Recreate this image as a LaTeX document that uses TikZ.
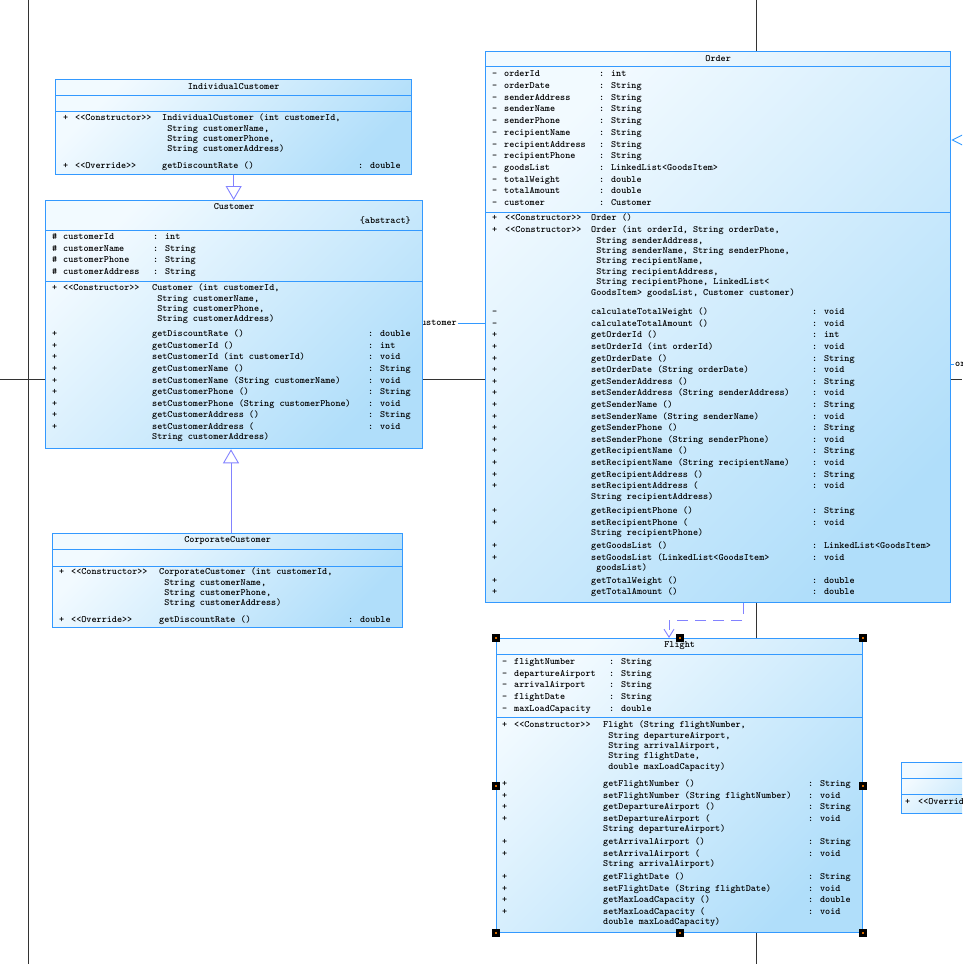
\documentclass[tikz,border=0pt]{standalone}
\usepackage{tikz}
\usepackage{array}
\usetikzlibrary{arrows.meta, positioning, calc, backgrounds}
\usepackage{xcolor}
\definecolor{umlblue}{RGB}{51,153,255}
\definecolor{umllight}{RGB}{242,250,255}
\definecolor{umldark}{RGB}{176,222,250}
\definecolor{genblue}{RGB}{130,130,255}
\setlength{\tabcolsep}{0pt}
\newcommand{\umlfont}{\fontsize{9.7}{10.4}\selectfont\ttfamily\bfseries}
\newcommand{\ind}{\hspace*{5.1pt}}
\tikzset{
  cls/.style={rectangle, draw=umlblue, line width=1.3pt,
    top color=umllight, bottom color=umldark, shading angle=45,
    anchor=north west, inner sep=0pt},
  sep/.style={draw=umlblue, line width=0.9pt},
  ttl/.style={font=\umlfont, inner sep=0pt},
  cmp/.style={font=\umlfont, inner sep=0pt, anchor=north west},
  lbl/.style={font=\umlfont, inner sep=1pt},
  gen/.style={-{Triangle[open, length=14pt, width=16pt]}, draw=genblue,
    line width=0.9pt},
  dep/.style={-{Straight Barb[length=8pt, width=10pt]}, draw=genblue,
    line width=0.9pt, dash pattern=on 11pt off 7pt},
  assoc/.style={draw=umlblue, line width=0.9pt},
  pg/.style={draw=black!80, line width=1pt},
  hdl/.style={rectangle, fill=black, minimum size=8pt, inner sep=0pt,
    path picture={\fill[orange!85!black]
      ([shift={(-1pt,-1pt)}]path picture bounding box.center) rectangle
      ([shift={(1pt,1pt)}]path picture bounding box.center);}},
}

\begin{document}
\begin{tikzpicture}[x=1pt, y=-1pt]
  \useasboundingbox (0,0) rectangle (962,964);
  \clip (0,0) rectangle (962,964);

  % -- IndividualCustomer --
  \node[cls, minimum width=356pt, minimum height=95pt] (indiv) at (55,79) {};
  \node[ttl] (indivT) at (indiv.north |- 0,87) {IndividualCustomer};
  \draw[sep] (indiv.west |- 0,95) -- (indiv.east |- 0,95);
  \draw[sep] (indiv.west |- 0,111) -- (indiv.east |- 0,111);
  \node[cmp] (indivOps) at (63,113.2) {%
    \begin{tabular}{w{l}{12pt}w{l}{87pt}w{l}{196pt}l}
    + & <<Constructor>> & IndividualCustomer (int customerId, & \\
      & & \ind String customerName, & \\
      & & \ind String customerPhone, & \\
      & & \ind String customerAddress) & \\[6.4pt]
    + & <<Override>> & getDiscountRate () & : double
    \end{tabular}};

  % -- Customer --
  \node[cls, minimum width=377pt, minimum height=248pt] (cust) at (45,200) {};
  \node[ttl] (custT) at (cust.north |- 0,207) {Customer};
  \node[ttl, anchor=east] (custAbs) at (411,221) {\{abstract\}};
  \draw[sep] (cust.west |- 0,230) -- (cust.east |- 0,230);
  \node[cmp] (custAttr) at (52,232.2) {%
    \begin{tabular}{w{l}{11pt}w{l}{90pt}l}
    \# & customerId & : int \\[1.2pt]
    \# & customerName & : String \\[1.2pt]
    \# & customerPhone & : String \\[1.2pt]
    \# & customerAddress & : String
    \end{tabular}};
  \draw[sep] (cust.west |- 0,281) -- (cust.east |- 0,281);
  \node[cmp] (custOps) at (52,283.2) {%
    \begin{tabular}{w{l}{11pt}w{l}{89pt}w{l}{216pt}l}
    + & <<Constructor>> & Customer (int customerId, & \\
      & & \ind String customerName, & \\
      & & \ind String customerPhone, & \\
      & & \ind String customerAddress) & \\[4.4pt]
    + & & getDiscountRate () & : double \\[1.2pt]
    + & & getCustomerId () & : int \\[1.2pt]
    + & & setCustomerId (int customerId) & : void \\[1.2pt]
    + & & getCustomerName () & : String \\[1.2pt]
    + & & setCustomerName (String customerName) & : void \\[1.2pt]
    + & & getCustomerPhone () & : String \\[1.2pt]
    + & & setCustomerPhone (String customerPhone) & : void \\[1.2pt]
    + & & getCustomerAddress () & : String \\[1.2pt]
    + & & setCustomerAddress ( & : void \\
      & & String customerAddress) &
    \end{tabular}};

  % -- CorporateCustomer --
  \node[cls, minimum width=350pt, minimum height=94pt] (corp) at (52,533) {};
  \node[ttl] (corpT) at (corp.north |- 0,541) {CorporateCustomer};
  \draw[sep] (corp.west |- 0,549) -- (corp.east |- 0,549);
  \draw[sep] (corp.west |- 0,566) -- (corp.east |- 0,566);
  \node[cmp] (corpOps) at (59,567.2) {%
    \begin{tabular}{w{l}{12pt}w{l}{88pt}w{l}{189pt}l}
    + & <<Constructor>> & CorporateCustomer (int customerId, & \\
      & & \ind String customerName, & \\
      & & \ind String customerPhone, & \\
      & & \ind String customerAddress) & \\[6.4pt]
    + & <<Override>> & getDiscountRate () & : double
    \end{tabular}};

  % -- Order --
  \node[cls, minimum width=465pt, minimum height=551pt] (order) at (485,51) {};
  \node[ttl] (orderT) at (order.north |- 0,59) {Order};
  \draw[sep] (order.west |- 0,66) -- (order.east |- 0,66);
  \node[cmp] (orderAttr) at (492,69.2) {%
    \begin{tabular}{w{l}{12pt}w{l}{95pt}l}
    - & orderId & : int \\[1.33pt]
    - & orderDate & : String \\[1.33pt]
    - & senderAddress & : String \\[1.33pt]
    - & senderName & : String \\[1.33pt]
    - & senderPhone & : String \\[1.33pt]
    - & recipientName & : String \\[1.33pt]
    - & recipientAddress & : String \\[1.33pt]
    - & recipientPhone & : String \\[1.33pt]
    - & goodsList & : LinkedList<GoodsItem> \\[1.33pt]
    - & totalWeight & : double \\[1.33pt]
    - & totalAmount & : double \\[1.33pt]
    - & customer & : Customer
    \end{tabular}};
  \draw[sep] (order.west |- 0,212) -- (order.east |- 0,212);
  \node[cmp] (orderOps) at (492,213.2) {%
    \begin{tabular}{w{l}{13pt}w{l}{86pt}w{l}{221pt}l}
    + & <<Constructor>> & Order () & \\[1.6pt]
    + & <<Constructor>> & Order (int orderId, String orderDate, & \\
      & & \ind String senderAddress, & \\
      & & \ind String senderName, String senderPhone, & \\
      & & \ind String recipientName, & \\
      & & \ind String recipientAddress, & \\
      & & \ind String recipientPhone, LinkedList< & \\
      & & GoodsItem> goodsList, Customer customer) & \\[9.2pt]
    - & & calculateTotalWeight () & : void \\[1.2pt]
    - & & calculateTotalAmount () & : void \\[1.2pt]
    + & & getOrderId () & : int \\[1.2pt]
    + & & setOrderId (int orderId) & : void \\[1.2pt]
    + & & getOrderDate () & : String \\[1.2pt]
    + & & setOrderDate (String orderDate) & : void \\[1.2pt]
    + & & getSenderAddress () & : String \\[1.2pt]
    + & & setSenderAddress (String senderAddress) & : void \\[1.2pt]
    + & & getSenderName () & : String \\[1.2pt]
    + & & setSenderName (String senderName) & : void \\[1.2pt]
    + & & getSenderPhone () & : String \\[1.2pt]
    + & & setSenderPhone (String senderPhone) & : void \\[1.2pt]
    + & & getRecipientName () & : String \\[1.2pt]
    + & & setRecipientName (String recipientName) & : void \\[1.2pt]
    + & & getRecipientAddress () & : String \\[1.2pt]
    + & & setRecipientAddress ( & : void \\
      & & String recipientAddress) & \\[4.2pt]
    + & & getRecipientPhone () & : String \\[1.2pt]
    + & & setRecipientPhone ( & : void \\
      & & String recipientPhone) & \\[2.6pt]
    + & & getGoodsList () & : LinkedList<GoodsItem> \\[1.2pt]
    + & & setGoodsList (LinkedList<GoodsItem> & : void \\
      & & \ind goodsList) & \\[2.2pt]
    + & & getTotalWeight () & : double \\[1.2pt]
    + & & getTotalAmount () & : double
    \end{tabular}};

  % -- Flight --
  \node[cls, minimum width=366pt, minimum height=294pt] (flight) at (496,638) {};
  \node[ttl] (flightT) at (flight.north |- 0,646) {Flight};
  \draw[sep] (flight.west |- 0,654) -- (flight.east |- 0,654);
  \node[cmp] (flightAttr) at (502,657.2) {%
    \begin{tabular}{w{l}{12pt}w{l}{95pt}l}
    - & flightNumber & : String \\[1.2pt]
    - & departureAirport & : String \\[1.2pt]
    - & arrivalAirport & : String \\[1.2pt]
    - & flightDate & : String \\[1.2pt]
    - & maxLoadCapacity & : double
    \end{tabular}};
  \draw[sep] (flight.west |- 0,717) -- (flight.east |- 0,717);
  \node[cmp] (flightOps) at (502,720.2) {%
    \begin{tabular}{w{l}{12pt}w{l}{89pt}w{l}{205pt}l}
    + & <<Constructor>> & Flight (String flightNumber, & \\
      & & \ind String departureAirport, & \\
      & & \ind String arrivalAirport, & \\
      & & \ind String flightDate, & \\
      & & \ind double maxLoadCapacity) & \\[7pt]
    + & & getFlightNumber () & : String \\[1.2pt]
    + & & setFlightNumber (String flightNumber) & : void \\[1.2pt]
    + & & getDepartureAirport () & : String \\[1.2pt]
    + & & setDepartureAirport ( & : void \\
      & & String departureAirport) & \\[2.4pt]
    + & & getArrivalAirport () & : String \\[1.2pt]
    + & & setArrivalAirport ( & : void \\
      & & String arrivalAirport) & \\[2.6pt]
    + & & getFlightDate () & : String \\[1.2pt]
    + & & setFlightDate (String flightDate) & : void \\[1.2pt]
    + & & getMaxLoadCapacity () & : double \\[1.2pt]
    + & & setMaxLoadCapacity ( & : void \\
      & & double maxLoadCapacity) &
    \end{tabular}};
  \foreach \a [count=\i] in {north west, north, north east, west, east,
      south west, south, south east}
    \node[hdl] (hd\i) at (flight.\a) {};

  % -- partly visible class on the right --
  \node[cls, minimum width=120pt, minimum height=51pt] (rbox) at (901,762) {};
  \draw[sep] (rbox.west |- 0,778) -- (rbox.east |- 0,778);
  \draw[sep] (rbox.west |- 0,794) -- (rbox.east |- 0,794);
  \node[cmp] (rboxOps) at (905,797.2) {%
    \begin{tabular}{w{l}{13pt}l} + & <<Override>> \end{tabular}};

  % Connecting arrows
  \draw[gen] (indiv.south) -- (indiv.south |- cust.north);
  \draw[gen] (corp.north -| 231,0) -- (cust.south -| 231,0);
  \draw[dep] (order.south -| 743,0) -- ++(0,17) -| (flight.north -| 669,0);

  % page breaks and associations, behind the classes
  \begin{scope}[on background layer]
    \clip (0,0) rectangle (962,964);
    \draw[pg] (28,0) -- (28,964);
    \draw[pg] (756,0) -- (756,964);
    \draw[pg] (0,379) -- (962,379);
    \draw[assoc] (cust.east |- 0,323) -- (order.west |- 0,323);
    \node[lbl, fill=white, anchor=east] (custLbl) at (458,323) {customer};
    \draw[assoc, {Diamond[open, length=22pt, width=11pt]}-]
         (order.east |- 0,140) -- ++(40,0);
    \draw[assoc] (order.east |- 0,364) -- ++(40,0);
    \node[lbl, fill=white, anchor=west] (orderLbl) at (954,364) {order};
  \end{scope}
\end{tikzpicture}
\end{document}
